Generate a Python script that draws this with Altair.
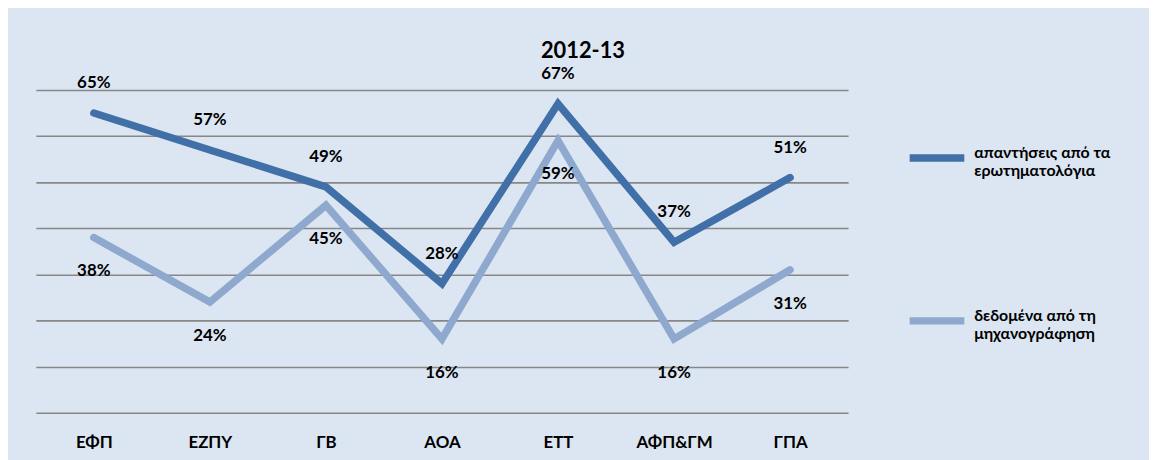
import altair as alt
import pandas as pd

categories = ["ΕΦΠ", "ΕΖΠΥ", "ΓΒ", "ΑΟΑ", "ΕΤΤ", "ΑΦΠ&ΓΜ", "ΓΠΑ"]
series_names = ["απαντήσεις από τα ερωτηματολόγια", "δεδομένα από τη μηχανογράφηση"]
questionnaires = [65, 57, 49, 28, 67, 37, 51]
records = [38, 24, 45, 16, 59, 16, 31]
colors = ["#4170A8", "#8EA8CE"]
title_text = "2012-13"

rows = []
for c, v in zip(categories, questionnaires):
    rows.append({"cat": c, "series": series_names[0], "value": v})
for c, v in zip(categories, records):
    rows.append({"cat": c, "series": series_names[1], "value": v})
df = pd.DataFrame(rows)

W, H = 818, 325
PL, PT, PR, PB = 28, 81, 303, 46
FONT = "Lato"

x = alt.X("cat:N", sort=categories, scale=alt.Scale(type="point", padding=0.5),
          axis=alt.Axis(title=None, labelAngle=0, domain=False, ticks=False,
                        labelPadding=22, labelFontSize=17, labelFontWeight="bold",
                        labelColor="#000000", labelFont=FONT))
y = alt.Y("value:Q", scale=alt.Scale(domain=[0, 70], nice=False),
          axis=alt.Axis(title=None, labels=False, ticks=False, domain=False,
                        values=[0, 10, 20, 30, 40, 50, 60, 70],
                        gridColor="#878787", gridWidth=1.6, gridOpacity=1))

base = alt.Chart(df)

lines = base.mark_line(strokeWidth=7.5, strokeCap="round", strokeJoin="miter").encode(
    x=x, y=y,
    color=alt.Color("series:N", scale=alt.Scale(domain=series_names, range=colors),
                    legend=alt.Legend(title=None, orient="none", legendX=876, legendY=37,
                                      symbolType="stroke", symbolSize=3025,
                                      symbolStrokeWidth=7.5, labelFont=FONT,
                                      labelFontSize=16, labelFontWeight="bold",
                                      labelColor="#000000", labelBaseline="alphabetic",
                                      labelOffset=6, rowPadding=111, labelLimit=300,
                                      labelExpr="[slice(datum.label, 0, lastindexof(datum.label, ' ')), slice(datum.label, lastindexof(datum.label, ' ') + 1)]")),
    detail="series:N",
)

text_base = base.transform_calculate(label="format(datum.value, 'd') + '%'")

top_labels = text_base.transform_filter(alt.datum.series == series_names[0]).mark_text(
    dy=-30, baseline="middle", fontSize=17, fontWeight="bold", font=FONT, color="#000000"
).encode(x=x, y=y, text="label:N")

bottom_labels = text_base.transform_filter(alt.datum.series == series_names[1]).mark_text(
    dy=34, baseline="middle", fontSize=17, fontWeight="bold", font=FONT, color="#000000"
).encode(x=x, y=y, text="label:N")

chart = alt.layer(lines, top_labels, bottom_labels).properties(
    width=W, height=H,
    title=alt.Title(title_text, anchor="middle", dx=142, offset=2,
                    fontSize=22, fontWeight="bold", font=FONT, color="#000000"),
    padding={"left": PL, "top": PT, "right": PR, "bottom": PB},
    autosize=alt.AutoSizeParams(type="none"),
).configure(background="#DCE6F2").configure_view(stroke=None)

chart.save("out.html", embed_options={"renderer": "svg", "actions": False})
